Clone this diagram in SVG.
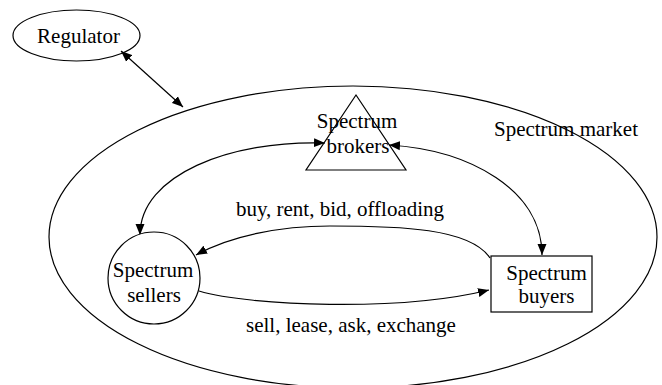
<svg xmlns="http://www.w3.org/2000/svg" width="662" height="385" viewBox="0 0 662 385" font-family="Liberation Serif, Times New Roman, serif" font-size="21">
<style>
.s{fill:none;stroke:#000;stroke-width:1.2}
.n{fill:#fff;stroke:#000;stroke-width:1.2}
.t{fill:#000;text-anchor:middle}
</style>
<defs>
<marker id="ah" markerUnits="userSpaceOnUse" markerWidth="12" markerHeight="10" refX="11" refY="5" orient="auto-start-reverse" viewBox="0 0 12 10">
<path d="M0,0.5 L11,5 L0,9.5 z" fill="#000"/>
</marker>
</defs>
<g id="market">
<ellipse class="s" cx="353" cy="237" rx="304" ry="151"/>
<text class="t" x="566" y="136" font-family="Liberation Serif, serif">Spectrum market</text>
</g>
<g id="regulator">
<ellipse class="n" cx="76.5" cy="35.5" rx="63.5" ry="25.5"/>
<text class="t" x="78.5" y="43" font-family="Liberation Serif, serif">Regulator</text>
</g>
<g id="connectors">
<path class="s" d="M121,51 L183,107" marker-start="url(#ah)" marker-end="url(#ah)"/>
<path class="s" d="M325,143 C230,140 140,175 140,235" marker-start="url(#ah)" marker-end="url(#ah)"/>
<path class="s" d="M389,145 C470,150 542,190 542,255" marker-start="url(#ah)" marker-end="url(#ah)"/>
<path class="s" d="M490,258 C470,228 400,226 330,226 C280,226 230,236 196,255" marker-end="url(#ah)"/>
<path class="s" d="M199,291 C250,306 400,312 489,290" marker-end="url(#ah)"/>
<text class="t" x="340" y="216" font-family="Liberation Serif, serif">buy, rent, bid, offloading</text>
<text class="t" x="351" y="332" font-family="Liberation Serif, serif">sell, lease, ask, exchange</text>
</g>
<g id="brokers">
<polygon class="s" points="356,95 306,170 406,170"/>
<text class="t" x="357" y="128" font-family="Liberation Serif, serif">Spectrum</text>
<text class="t" x="358" y="153" font-family="Liberation Serif, serif">brokers</text>
</g>
<g id="sellers">
<circle class="n" cx="154" cy="278" r="46"/>
<text class="t" x="153" y="277" font-family="Liberation Serif, serif">Spectrum</text>
<text class="t" x="154" y="302" font-family="Liberation Serif, serif">sellers</text>
</g>
<g id="buyers">
<rect class="n" x="491" y="256" width="101" height="56"/>
<text class="t" x="546.5" y="280" font-family="Liberation Serif, serif">Spectrum</text>
<text class="t" x="546.5" y="303" font-family="Liberation Serif, serif">buyers</text>
</g>
</svg>
